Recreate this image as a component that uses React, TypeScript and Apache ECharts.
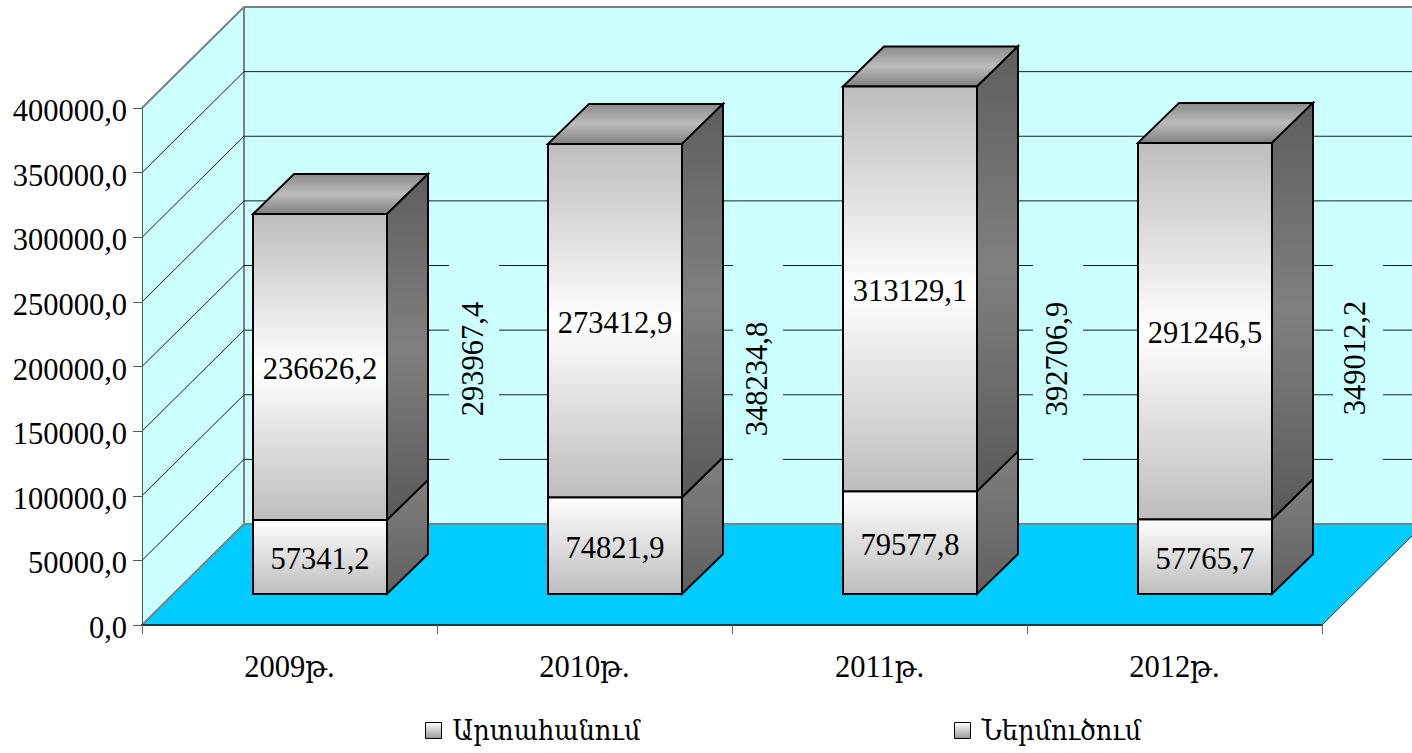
import React, { useEffect, useRef } from "react";
import * as echarts from "echarts";

const categories = ["2009թ.", "2010թ.", "2011թ.", "2012թ."];
const exportName = "Արտահանում";
const importName = "Ներմուծում";
const exportValues = [57341.2, 74821.9, 79577.8, 57765.7];
const importValues = [236626.2, 273412.9, 313129.1, 291246.5];
const totalValues = [293967.4, 348234.8, 392706.9, 349012.2];
const yTicks = [0, 50000, 100000, 150000, 200000, 250000, 300000, 350000, 400000];

// layout only
const totalLabelDx = [183, 172.5, 177.5, 180.5];
const totalLabelY = [359, 379, 359, 358];
const totalGapDx = [184.5, 173.5, 178.5, 183.5];
const GAP_W = 50;
const WALL_DX = 102;
const WALL_DY = 101;
const BAR_OFF_X = 30.5;
const BAR_OFF_Y = 31;
const BAR_W = 134;
const BAR_DX = 41;
const BAR_DY = 40;
const WALL_RIGHT_EXTRA = 102;
const TEXT_DY = 2;
const FONT = "'Liberation Serif','Times New Roman','DejaVu Serif Condensed','DejaVu Serif',serif";
const LEGEND_FONT = "'DejaVu Serif Condensed','DejaVu Serif',serif";
const FONT_SIZE = 30.5;
const WALL = "#CCFFFF";
const FLOOR = "#00CCFF";
const GRID_LINE = "#142020";
const EDGE = "#808080";

const grad = (stops: [number, string][]) =>
  new echarts.graphic.LinearGradient(
    0, 0, 0, 1,
    stops.map(([offset, color]) => ({ offset, color }))
  );

const fmt = (v: number) => v.toFixed(1).replace(".", ",");

function renderWall(params: any, api: any) {
  const cs = params.coordSys;
  const v = api.value(1);
  const y = api.coord([0, v])[1];
  const left = cs.x;
  const right = cs.x + cs.width;
  const bottom = cs.y + cs.height;
  const children: any[] = [];
  if (params.dataIndex === 0) {
    const top = cs.y;
    children.push(
      {
        type: "polygon",
        shape: { points: [[left + WALL_DX, top - WALL_DY], [right + WALL_RIGHT_EXTRA, top - WALL_DY], [right + WALL_RIGHT_EXTRA, bottom - WALL_DY], [left + WALL_DX, bottom - WALL_DY]] },
        style: { fill: WALL },
      },
      {
        type: "polygon",
        shape: { points: [[left, top], [left + WALL_DX, top - WALL_DY], [left + WALL_DX, bottom - WALL_DY], [left, bottom]] },
        style: { fill: WALL },
      },
      {
        type: "polygon",
        shape: { points: [[left, bottom], [left + WALL_DX, bottom - WALL_DY], [right + WALL_DX, bottom - WALL_DY], [right, bottom]] },
        style: { fill: FLOOR, stroke: "#1b3a44", lineWidth: 1 },
      },
      {
        type: "polyline",
        shape: { points: [[left, top], [left + WALL_DX, top - WALL_DY], [right + WALL_RIGHT_EXTRA, top - WALL_DY]] },
        style: { fill: "none", stroke: EDGE, lineWidth: 2 },
      },
      {
        type: "line",
        shape: { x1: left + WALL_DX, y1: top - WALL_DY, x2: left + WALL_DX, y2: bottom - WALL_DY },
        style: { stroke: EDGE, lineWidth: 2 },
      },
      {
        type: "polyline",
        shape: { points: [[left, bottom], [left + WALL_DX, bottom - WALL_DY], [right + WALL_RIGHT_EXTRA, bottom - WALL_DY]] },
        style: { fill: "none", stroke: EDGE, lineWidth: 2 },
      }
    );
  } else if (v < yTicks[yTicks.length - 1]) {
    children.push(
      {
        type: "line",
        shape: { x1: left, y1: y, x2: left + WALL_DX, y2: y - WALL_DY },
        style: { stroke: GRID_LINE, lineWidth: 1 },
      },
      {
        type: "line",
        shape: { x1: left + WALL_DX, y1: y - WALL_DY, x2: right + WALL_RIGHT_EXTRA, y2: y - WALL_DY },
        style: { stroke: GRID_LINE, lineWidth: 1 },
      }
    );
  }
  return { type: "group", children };
}

function renderTotal(params: any, api: any) {
  const i = params.dataIndex;
  const cx = api.coord([i, 0])[0];
  const gapTop = api.coord([i, 225000])[1] - WALL_DY;
  const gapBottom = api.coord([i, 25000])[1] - WALL_DY;
  return {
    type: "group",
    children: [
      {
        type: "rect",
        shape: { x: cx + totalGapDx[i] - GAP_W / 2, y: gapTop, width: GAP_W, height: gapBottom - gapTop },
        style: { fill: WALL },
      },
      {
        type: "text",
        x: cx + totalLabelDx[i],
        y: totalLabelY[i],
        rotation: Math.PI / 2,
        style: {
          text: fmt(api.value(1)),
          x: 0,
          y: 0,
          align: "center",
          verticalAlign: "middle",
          font: `${FONT_SIZE}px ${FONT}`,
          fill: "#000",
        },
      },
    ],
  };
}

const makeBar = (isTop: boolean) => (params: any, api: any) => {
  const i = api.value(0);
  const base = api.value(1);
  const val = api.value(2);
  const [cx, yb0] = api.coord([i, base]);
  const yt0 = api.coord([i, base + val])[1];
  const l = cx + BAR_OFF_X - BAR_W / 2;
  const r = l + BAR_W;
  const yb = yb0 - BAR_OFF_Y;
  const yt = yt0 - BAR_OFF_Y;
  const stroke = { stroke: "#000", lineWidth: 2 };
  const children: any[] = [
    {
      type: "polygon",
      shape: { points: [[r, yt], [r + BAR_DX, yt - BAR_DY], [r + BAR_DX, yb - BAR_DY], [r, yb]] },
      style: {
        fill: isTop
          ? grad([[0, "#5e5e5e"], [0.5, "#808080"], [1, "#595959"]])
          : grad([[0, "#808080"], [1, "#5f5f5f"]]),
        ...stroke,
      },
    },
    {
      type: "rect",
      shape: { x: l, y: yt, width: BAR_W, height: yb - yt },
      style: {
        fill: isTop
          ? grad([[0, "#bdbdbd"], [0.5, "#ffffff"], [1, "#bdbdbd"]])
          : grad([[0, "#ffffff"], [1, "#bdbdbd"]]),
        ...stroke,
      },
    },
    {
      type: "text",
      x: (l + r) / 2,
      y: (yt + yb) / 2 + TEXT_DY,
      style: {
        text: fmt(val),
        x: 0,
        y: 0,
        align: "center",
        verticalAlign: "middle",
        font: `${FONT_SIZE}px ${FONT}`,
        fill: "#000",
      },
    },
  ];
  if (isTop) {
    children.unshift({
      type: "polygon",
      shape: { points: [[l, yt], [l + BAR_DX, yt - BAR_DY], [r + BAR_DX, yt - BAR_DY], [r, yt]] },
      style: {
        fill: grad([[0, "#8a8a8a"], [0.5, "#bcbcbc"], [1, "#808080"]]),
        ...stroke,
      },
    });
  }
  return { type: "group", children };
};

export default function App() {
  const ref = useRef<HTMLDivElement>(null);
  useEffect(() => {
    document.documentElement.style.margin = "0";
    document.documentElement.style.padding = "0";
    document.body.style.margin = "0";
    document.body.style.padding = "0";
    document.body.style.overflow = "hidden";
    const chart = echarts.init(ref.current!, undefined, { renderer: "svg" });
    const legendBase = {
      icon: "rect",
      orient: "horizontal",
      top: 716,
      itemWidth: 16,
      itemHeight: 16,
      padding: 0,
      selectedMode: false,
      itemStyle: {
        color: grad([[0, "#ffffff"], [1, "#9a9a9a"]]),
        borderColor: "#000",
        borderWidth: 1,
      },
      textStyle: {
        fontFamily: LEGEND_FONT,
        fontSize: 28.5,
        color: "#000",
        padding: [0, 0, 0, 6],
      },
    };
    chart.setOption({
      animation: false,
      backgroundColor: "#fff",
      tooltip: { show: false },
      legend: [
        { ...legendBase, left: 425, data: [exportName] },
        { ...legendBase, left: 954, data: [importName] },
      ],
      grid: { left: 142, top: 108, width: 1180, height: 517 },
      xAxis: {
        type: "category",
        data: categories,
        z: 10,
        axisLine: { show: true, lineStyle: { color: "#1b3a44", width: 2 } },
        axisTick: { show: true, length: 9, alignWithLabel: false, lineStyle: { color: "#666", width: 1 } },
        axisLabel: { margin: 26, fontFamily: FONT, fontSize: FONT_SIZE, color: "#000" },
      },
      yAxis: {
        type: "value",
        min: 0,
        max: 400000,
        interval: 50000,
        z: 10,
        splitLine: { show: false },
        axisLine: { show: true, lineStyle: { color: "#555", width: 1 } },
        axisTick: { show: true, length: 9, lineStyle: { color: "#555", width: 1 } },
        axisLabel: {
          margin: 15,
          color: "#000",
          formatter: (v: number) => `{a|${fmt(v)}}`,
          rich: {
            a: {
              fontFamily: FONT,
              fontSize: FONT_SIZE,
              color: "#000",
              padding: [6, 0, 0, 0],
            },
          },
        },
      },
      series: [
        {
          type: "custom",
          name: "wall",
          silent: true,
          z: 1,
          renderItem: renderWall,
          data: yTicks.map((v) => [0, v]),
          encode: { x: 0, y: 1 },
        },
        {
          type: "custom",
          name: "total",
          silent: true,
          z: 2,
          renderItem: renderTotal,
          data: totalValues.map((v, i) => [i, v]),
          encode: { x: 0, y: 1 },
        },
        {
          type: "custom",
          name: exportName,
          silent: true,
          z: 3,
          renderItem: makeBar(false),
          data: exportValues.map((v, i) => [i, 0, v]),
          encode: { x: 0, y: 1 },
        },
        {
          type: "custom",
          name: importName,
          silent: true,
          z: 4,
          renderItem: makeBar(true),
          data: importValues.map((v, i) => [i, exportValues[i], v]),
          encode: { x: 0, y: 1 },
        },
      ],
    });
    return () => chart.dispose();
  }, []);
  return <div ref={ref} style={{ width: 1412, height: 753 }} />;
}
